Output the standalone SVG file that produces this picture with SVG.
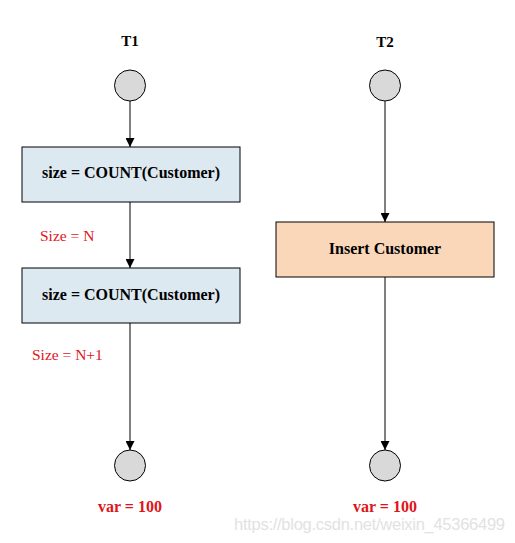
<svg xmlns="http://www.w3.org/2000/svg" width="515" height="543" viewBox="0 0 515 543">
<defs>
<marker id="arr" viewBox="0 0 10 10" refX="10" refY="5" markerWidth="9" markerHeight="9" markerUnits="userSpaceOnUse" orient="auto">
<path d="M0,0 L10,5 L0,10 z" fill="#000"/>
</marker>
<style>
.lbl{font-family:"Liberation Serif","Times New Roman",serif;font-weight:bold;font-size:16px;fill:#000;text-anchor:middle}
.ttl{font-family:"Liberation Serif","Times New Roman",serif;font-weight:bold;font-size:15px;fill:#000;text-anchor:middle}
.red{font-family:"Liberation Serif","Times New Roman",serif;font-size:15.5px;fill:#e0141b}
.redb{font-family:"Liberation Serif","Times New Roman",serif;font-weight:bold;font-size:16px;fill:#e0141b;text-anchor:middle}
.circ{fill:#d9d9d9;stroke:#000;stroke-width:1}
.edge{stroke:#000;stroke-width:1;fill:none;marker-end:url(#arr)}
.box{stroke:#000;stroke-width:1}
</style>
</defs>
<rect width="515" height="543" fill="#fff"/>
<g id="t1-title"><text class="ttl" x="130" y="46">T1</text></g>
<g id="t2-title"><text class="ttl" x="385" y="47">T2</text></g>
<g id="t1-start"><circle class="circ" cx="130" cy="85.5" r="15.5"/></g>
<g id="t2-start"><circle class="circ" cx="385" cy="85.5" r="15.5"/></g>
<g id="t1-count1"><rect class="box" x="22" y="147" width="218" height="55" fill="#dce9f0"/><text class="lbl" x="131" y="178">size = COUNT(Customer)</text></g>
<g id="t1-count2"><rect class="box" x="22" y="268" width="218" height="55" fill="#dce9f0"/><text class="lbl" x="131" y="300">size = COUNT(Customer)</text></g>
<g id="t2-insert"><rect class="box" x="276" y="222" width="218" height="55" fill="#fad7b9"/><text class="lbl" x="385" y="254">Insert Customer</text></g>
<g id="t1-end"><circle class="circ" cx="130" cy="465.5" r="15.5"/></g>
<g id="t2-end"><circle class="circ" cx="385" cy="465.5" r="15.5"/></g>
<g id="connectors">
<line class="edge" x1="130" y1="101" x2="130" y2="147"/>
<line class="edge" x1="130" y1="202" x2="130" y2="268"/>
<line class="edge" x1="130" y1="323" x2="130" y2="450"/>
<line class="edge" x1="385" y1="101" x2="385" y2="222"/>
<line class="edge" x1="385" y1="277" x2="385" y2="450"/>
</g>
<g id="annotations">
<text class="red" x="40" y="241">Size = N</text>
<text class="red" x="32" y="360">Size = N+1</text>
<text class="redb" x="130" y="512">var = 100</text>
<text class="redb" x="385" y="512">var = 100</text>
<text x="234" y="530" font-family="Liberation Sans,Arial,sans-serif" font-size="16.5" fill="#e2e2e2" textLength="271">https://blog.csdn.net/weixin_45366499</text>
</g>
</svg>
